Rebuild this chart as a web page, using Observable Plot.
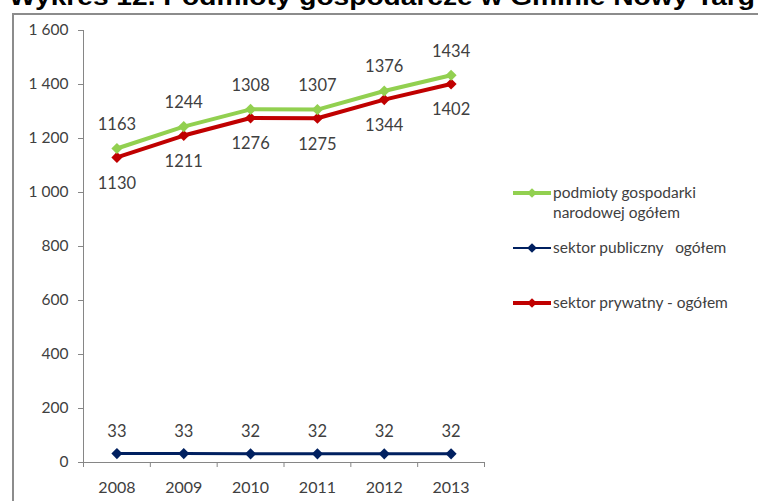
<!DOCTYPE html>
<html><head><meta charset="utf-8">
<script src="https://cdn.jsdelivr.net/npm/d3@7"></script>
<script src="https://cdn.jsdelivr.net/npm/@observablehq/plot@0.6"></script>
<style>
html,body{margin:0;padding:0;background:#fff;overflow:hidden;}
#wrap{position:relative;width:758px;height:501px;overflow:hidden;font-family:Lato,"Open Sans",sans-serif;}
#frame{position:absolute;left:12px;top:13px;width:800px;height:600px;border:2px solid #8c8c8c;box-sizing:border-box;}
#chart{position:absolute;left:0;top:0;}
#overlay{position:absolute;left:0;top:0;}
</style></head>
<body><div id="wrap"><div id="frame"></div><div id="chart"></div><svg id="overlay" width="758" height="501"></svg></div>
<script>
const title = "Wykres 12. Podmioty gospodarcze w Gminie Nowy Targ";
const years = [2008, 2009, 2010, 2011, 2012, 2013];
const ogolem = [1163, 1244, 1308, 1307, 1376, 1434];
const publiczny = [33, 33, 32, 32, 32, 32];
const prywatny = [1130, 1211, 1276, 1275, 1344, 1402];
const yTicks = [0, 200, 400, 600, 800, 1000, 1200, 1400, 1600];
const seriesNames = ["podmioty gospodarki\nnarodowej ogółem", "sektor publiczny   ogółem", "sektor prywatny - ogółem"];
const colors = ["#92D050", "#002060", "#C00000"];

const fmt = d3.formatLocale({thousands: "\u00a0", grouping: [3], decimal: ","}).format(",");
const mk = (vals, s) => years.map((y, i) => ({year: y, value: vals[i], s}));
const dG = mk(ogolem, 0), dB = mk(publiczny, 1), dR = mk(prywatny, 2);
const xDomain = [years[0] - 0.5, years[years.length - 1] + 0.5];
const xEdges = [...years.map(y => y - 0.5), years[years.length - 1] + 0.5];
const txt = {fill: "#404040", fontSize: 16.5, fontFamily: "Lato"};

const chart = Plot.plot({
  width: 758, height: 501,
  marginLeft: 83, marginRight: 274, marginTop: 30, marginBottom: 39,
  style: {fontFamily: "Lato", fontSize: "14px", background: "transparent"},
  x: {type: "linear", domain: xDomain, label: null},
  y: {domain: [0, 1600], label: null},
  marks: [
    Plot.axisY({ticks: yTicks, tickSize: 5, tickPadding: 10, tickFormat: fmt, stroke: "#868686", fill: "#404040", fontSize: 15.5, label: null}),
    Plot.axisX({ticks: years, tickSize: 0, tickPadding: 19, tickFormat: d => String(d), fill: "#404040", fontSize: 16, label: null}),
    Plot.axisX({ticks: xEdges, tickSize: 5, tickFormat: () => "", stroke: "#868686", label: null}),
    Plot.ruleY([0], {stroke: "#868686"}),
    Plot.ruleX([xDomain[0]], {stroke: "#868686"}),
    Plot.line(dB, {x: "year", y: "value", stroke: colors[1], strokeWidth: 3}),
    Plot.line(dR, {x: "year", y: "value", stroke: colors[2], strokeWidth: 4}),
    Plot.line(dG, {x: "year", y: "value", stroke: colors[0], strokeWidth: 4}),
    Plot.dot(dB, {x: "year", y: "value", fill: colors[1], symbol: "diamond2", r: 5, stroke: null}),
    Plot.dot(dR, {x: "year", y: "value", fill: colors[2], symbol: "diamond2", r: 5, stroke: null}),
    Plot.dot(dG, {x: "year", y: "value", fill: colors[0], symbol: "diamond2", r: 5, stroke: null}),
    Plot.text(dG, {x: "year", y: "value", text: d => String(d.value), dy: -24, ...txt}),
    Plot.text(dR, {x: "year", y: "value", text: d => String(d.value), dy: 26, ...txt}),
    Plot.text(dB, {x: "year", y: "value", text: d => String(d.value), dy: -22, ...txt})
  ]
});
document.getElementById("chart").appendChild(chart);

// title and legend overlay
const ov = d3.select("#overlay");
ov.append("text").attr("x", 9).attr("y", 5).attr("textLength", 746).attr("lengthAdjust", "spacingAndGlyphs")
  .attr("font-family", "Liberation Sans, Arial, sans-serif").attr("font-weight", "bold").attr("font-size", 23)
  .attr("fill", "#000").text(title);
const legY = [193, 248, 303];
const legW = [4, 2, 4];
seriesNames.forEach((name, i) => {
  const g = ov.append("g").attr("transform", `translate(513,${legY[i]})`);
  g.append("line").attr("x1", 0).attr("x2", 38).attr("y1", 0).attr("y2", 0).attr("stroke", colors[i]).attr("stroke-width", legW[i]);
  g.append("path").attr("d", d3.symbol(d3.symbolDiamond2, 60)()).attr("transform", "translate(19,0)").attr("fill", colors[i]);
  name.split("\n").forEach((line, j) => {
    g.append("text").attr("x", 40).attr("y", j * 20).attr("dy", "0.35em")
      .attr("font-family", "Lato").attr("font-size", 15.5).attr("fill", "#404040")
      .style("white-space", "pre").attr("xml:space", "preserve").text(line);
  });
});
</script></body></html>
